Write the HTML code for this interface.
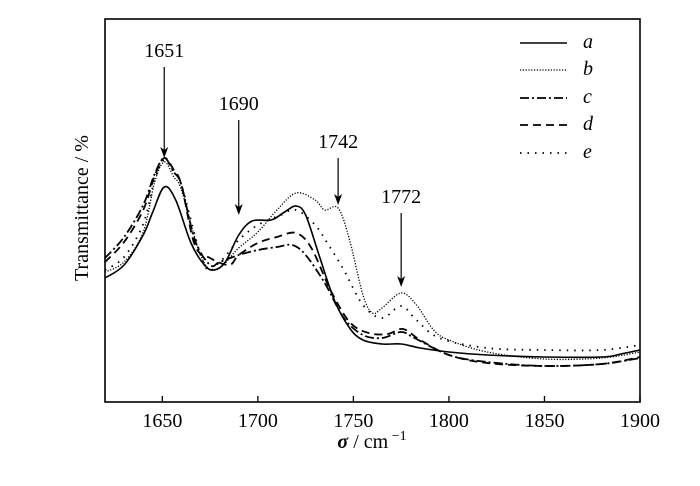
<!DOCTYPE html>
<html><head><meta charset="utf-8"><style>
body{margin:0;background:#fff}
svg text{font-family:"Liberation Serif",serif;fill:#000}
</style></head><body>
<svg id="chart" width="700" height="481" viewBox="0 0 700 481" xmlns="http://www.w3.org/2000/svg">
<rect x="105" y="19" width="535" height="383" fill="none" stroke="#000" stroke-width="1.6"/>
<g id="ticks"></g>
<g id="series"></g>
<g id="annot"></g>
<g id="legend"></g>
<text transform="translate(88,208) rotate(-90)" text-anchor="middle" font-size="20">Transmittance / %</text>
<text x="372" y="448" text-anchor="middle" font-size="20"><tspan font-weight="bold" font-style="italic">σ</tspan> / cm<tspan dy="-8" font-size="14"> −1</tspan></text>
</svg>
<script>
const xTicks=[1650,1700,1750,1800,1850,1900];
const peaks=[1651,1690,1742,1772];
const arrowX=[1651,1690,1742,1775];
const peakTop=[335,282,244,189];
const peakTip=[244,187,197,115];
const seriesNames=['a','b','c','d','e'];
const xs_a=[1620,1630,1640,1645,1651,1657,1665,1672,1677,1683,1690,1697,1707,1714,1720,1725,1732,1740,1748,1755,1765,1775,1785,1800,1820,1850,1880,1890,1900];
const ys_a=[124,137,167,190,215,202,159,137,132,140,167,181,182,190,196,187,147,102,74,62,58,58,54,50,47,45,45,48,52];
const xs_b=[1620,1630,1640,1646,1651,1656,1660,1670,1678,1690,1700,1710,1720,1730,1735,1742,1748,1755,1760,1765,1775,1783,1792,1800,1820,1850,1880,1900];
const ys_b=[130,140,170,220,240,225,212,147,132,154,170,192,209,202,192,194,162,107,89,94,109,97,72,62,50,43,44,50];
const xs_c=[1620,1630,1640,1646,1651,1656,1660,1667,1675,1680,1690,1700,1710,1718,1725,1735,1745,1755,1765,1775,1782,1800,1820,1850,1880,1900];
const ys_c=[144,165,197,228,244,230,217,162,137,140,147,152,155,157,147,119,84,67,64,70,64,47,40,36,38,44];
const xs_d=[1620,1630,1640,1646,1651,1656,1660,1667,1675,1685,1690,1700,1710,1720,1728,1738,1748,1758,1768,1776,1785,1800,1820,1850,1880,1900];
const ys_d=[140,160,192,226,244,232,217,157,144,137,147,159,165,169,154,112,80,69,68,73,62,47,39,36,38,45];
const xs_e=[1620,1630,1640,1646,1651,1656,1660,1672,1680,1690,1700,1712,1720,1730,1737,1745,1755,1765,1775,1783,1795,1820,1850,1880,1900];
const ys_e=[132,145,178,222,242,230,217,137,140,162,177,187,192,177,157,132,97,84,96,82,64,54,52,52,57];
const dashes={a:'',b:'1.2 1.6',c:'9 3 2 3',d:'8 5',e:'1.5 6'};
const widths={a:1.6,b:1.3,c:1.8,d:1.8,e:1.8};
const X0=1620,X1=1900,PX0=105,PX1=640,PY0=402;
const sx=v=>PX0+(v-X0)*(PX1-PX0)/(X1-X0);
const sy=v=>PY0-v;
const NS='http://www.w3.org/2000/svg';
function mk(t,attrs,parent){const e=document.createElementNS(NS,t);for(const k in attrs)e.setAttribute(k,attrs[k]);parent.appendChild(e);return e;}
const tg=document.getElementById('ticks');
xTicks.forEach(t=>{
 const l=mk('line',{x1:sx(t),x2:sx(t),y1:PY0,y2:PY0-6,stroke:'#000','stroke-width':1.3},tg);
 
 
 const tx=mk('text',{x:sx(t),y:427,'text-anchor':'middle','font-size':20},tg);
 tx.textContent=t;
 
 
});
function smooth(pts){let d='M'+pts[0][0]+','+pts[0][1];for(let i=0;i<pts.length-1;i++){const p0=pts[i-1]||pts[i],p1=pts[i],p2=pts[i+1],p3=pts[i+2]||p2;const c1x=p1[0]+(p2[0]-p0[0])/6,c1y=p1[1]+(p2[1]-p0[1])/6,c2x=p2[0]-(p3[0]-p1[0])/6,c2y=p2[1]-(p3[1]-p1[1])/6;d+=' C'+c1x+','+c1y+' '+c2x+','+c2y+' '+p2[0]+','+p2[1];}return d;}
const sg=document.getElementById('series');
const data={a:[xs_a,ys_a],b:[xs_b,ys_b],c:[xs_c,ys_c],d:[xs_d,ys_d],e:[xs_e,ys_e]};
seriesNames.forEach(n=>{
 const [xs,ys]=data[n];
 const pts=xs.map((x,i)=>[sx(x),sy(ys[i])]);
 const p=mk('path',{d:smooth(pts),fill:'none',stroke:'#000','stroke-width':widths[n],'stroke-dasharray':dashes[n]},sg);
 
 
});
const ag=document.getElementById('annot');
peaks.forEach((p,i)=>{
 const x=sx(arrowX[i]);
 const top=sy(peakTop[i]),tip=sy(peakTip[i]);
 const tx=mk('text',{x:x,y:top-10,'text-anchor':'middle','font-size':20},ag);
 tx.textContent=p;
 
 
 const l=mk('line',{x1:x,x2:x,y1:top,y2:tip-6,stroke:'#000','stroke-width':1.2},ag);
 
 
 const h=mk('path',{d:`M${x-4},${tip-11} L${x},${tip} L${x+4},${tip-11} L${x},${tip-8} Z`,fill:'#000'},ag);
 
 
});
const lg=document.getElementById('legend');
const ly=[43,70,98,125,153];
seriesNames.forEach((n,i)=>{
 const l=mk('line',{x1:520,x2:567,y1:ly[i],y2:ly[i],stroke:'#000','stroke-width':widths[n],'stroke-dasharray':dashes[n]},lg);
 
 
 const t=mk('text',{x:583,y:ly[i]+5,'font-size':20,'font-style':'italic'},lg);
 t.textContent=n;
 
 
});
</script>
</body></html>
